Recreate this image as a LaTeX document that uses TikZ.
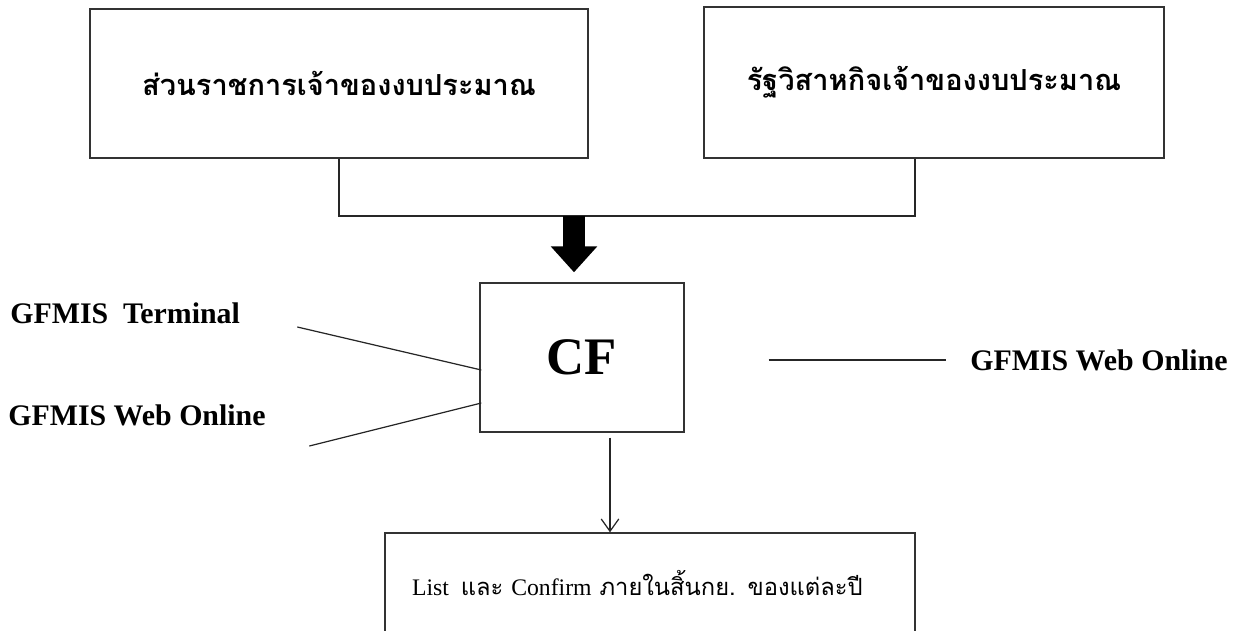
\documentclass[tikz,border=0pt]{standalone}
\usepackage{fontspec}
\setmainfont{Liberation Serif}
\newfontfamily\thaifont[Script=Thai]{Loma}
\usetikzlibrary{arrows.meta,calc}

\begin{document}
\begin{tikzpicture}[x=0.02cm,y=-0.02cm,
		box/.style={draw=black!80,line width=0.8pt,inner sep=0pt},
		thline/.style={draw=black!85,line width=0.7pt},
		ownerfont/.style={font=\thaifont\bfseries\fontsize{16.5}{20}\selectfont},
		sidelabel/.style={anchor=west,inner sep=0pt,font=\fontsize{17}{20}\selectfont\bfseries}]
	\path[use as bounding box,clip] (0,0) rectangle (1239,631);

	% owners of the budget
	\node[box,ownerfont,minimum width=9.96cm,minimum height=2.98cm] (gov) at (339,83.5) {ส่วนราชการเจ้าของงบประมาณ};
	\node[box,ownerfont,minimum width=9.2cm,minimum height=3.02cm] (soe) at (934,82.5) {รัฐวิสาหกิจเจ้าของงบประมาณ};

	\node[box,minimum width=4.08cm,minimum height=2.98cm,font=\fontsize{30}{34}\selectfont\bfseries] (cf) at (582,357.5) {CF};
	\node[box,minimum width=10.6cm,minimum height=2cm,inner xsep=0.54cm,text width=9.52cm,align=left,font=\fontsize{13.5}{16}\selectfont] (list) at (650,583) {List \,{\thaifont และ} Confirm {\thaifont ภายในสิ้นกย. ของแต่ละปี}};

	\node[sidelabel] (term) at (10,313) {GFMIS \ Terminal};
	\node[sidelabel] (webl) at (8,415) {GFMIS Web Online};
	\node[sidelabel] (webr) at (970,360) {GFMIS Web Online};

	% join and thick arrow
	\coordinate (join) at (574,216);
	\draw[thline] (gov.south) |- (join) -| ([xshift=-0.38cm]soe.south);
	\draw[line width=0.44cm,shorten >=0.2cm,-{Triangle[width=0.9cm,length=0.52cm]}] (join) -- (join |- cf.north);

	% inputs and output
	\draw[thline] ($(cf.west)+(-182,-30.5)$) -- ($(cf.west)+(2,12.5)$);
	\draw[thline] ($(cf.west)+(-170,88.5)$) -- ($(cf.west)+(2,45.5)$);
	\draw[thline] ($(cf.east)+(84,2.5)$) -- ($(cf.east)+(261,2.5)$);

	\coordinate (out) at ([xshift=0.56cm,yshift=-0.1cm]cf.south);
	\draw[thline,-{Straight Barb[length=7pt,width=10pt]}] (out) -- (out |- list.north);
\end{tikzpicture}
\end{document}
